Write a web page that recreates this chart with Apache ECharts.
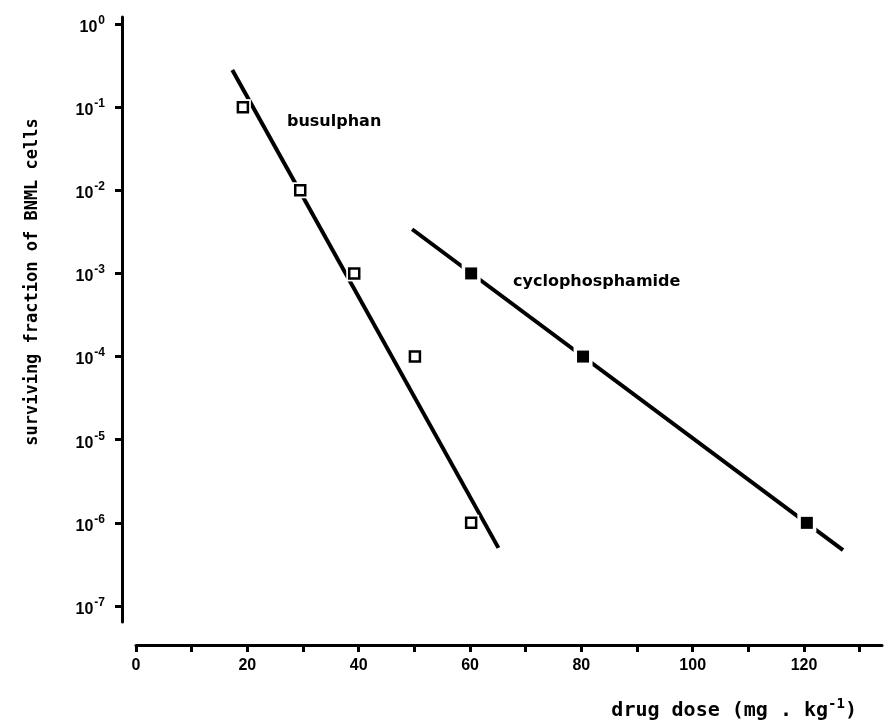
<!DOCTYPE html>
<html>
<head>
<meta charset="utf-8">
<script src="https://cdn.jsdelivr.net/npm/echarts@6/dist/echarts.min.js"></script>
<style>
  html, body { margin: 0; padding: 0; background: #fff; }
  #chart { width: 884px; height: 726px; }
</style>
</head>
<body>
<div id="chart"></div>
<script>
// Measured survival (surviving fraction) against drug dose, mg/kg
const busulphanDose = [19.2, 29.5, 39.2, 50.1, 60.2];
const busulphanSurvival = [1e-1, 1e-2, 1e-3, 1e-4, 1e-6];
const cyclophosphamideDose = [60.2, 80.3, 120.5];
const cyclophosphamideSurvival = [1e-3, 1e-4, 1e-6];

// End points of the fitted survival lines
const busulphanFitDose = [17.3, 65.1];
const busulphanFitSurvival = [0.28, 5.0e-7];
const cyclophosphamideFitDose = [49.6, 127];
const cyclophosphamideFitSurvival = [3.4e-3, 4.7e-7];

// Axis ranges
const doseRange = [0, 134];
const doseTickStep = 10;
const doseLabelStep = 20;
const doseLabelMax = 120;
const survivalRange = [1e-7, 1];

const pairs = (xs, ys) => xs.map((x, i) => [x, ys[i]]);

const tickFont = { fontFamily: 'Liberation Sans', fontWeight: 'bold', fontSize: 16, color: '#000' };
const black = '#000';

const chart = echarts.init(document.getElementById('chart'), null, { renderer: 'canvas' });

chart.setOption({
  animation: false,
  backgroundColor: '#fff',
  grid: [
    { left: 136, top: 24, width: 746, height: 582 },
    { left: 136, top: 17, width: 746, height: 605 }
  ],
  xAxis: [
    {
      type: 'value', gridIndex: 0,
      min: doseRange[0], max: doseRange[1], interval: doseTickStep,
      offset: 39,
      splitLine: { show: false },
      axisLine: { show: true, onZero: false, lineStyle: { color: black, width: 3 } },
      axisTick: { show: true, length: 7, lineStyle: { color: black, width: 3 } },
      axisLabel: {
        margin: 13, ...tickFont,
        showMaxLabel: false,
        formatter: v => (v % doseLabelStep === 0 && v <= doseLabelMax) ? String(v) : ''
      }
    },
    { type: 'value', gridIndex: 1, show: false, min: 0, max: 1 }
  ],
  yAxis: [
    {
      type: 'log', gridIndex: 0, logBase: 10,
      min: survivalRange[0], max: survivalRange[1], interval: 1,
      offset: 14,
      splitLine: { show: false },
      axisLine: { show: true, onZero: false, lineStyle: { color: black, width: 3 } },
      axisTick: { show: true, length: 7, lineStyle: { color: black, width: 3 } },
      axisLabel: {
        margin: 17,
        formatter: v => '{b|10}{s|' + Math.round(Math.log10(v)) + '}',
        rich: {
          b: { ...tickFont, fontSize: 16, padding: [7, 0, 0, 0] },
          s: { fontFamily: 'Liberation Sans', fontWeight: 'bold', fontSize: 12, color: black, padding: [0, 0, 7, 1] }
        }
      }
    },
    {
      type: 'value', gridIndex: 1, min: 0, max: 1, offset: 14,
      splitLine: { show: false },
      axisLine: { show: true, onZero: false, lineStyle: { color: black, width: 3 } },
      axisTick: { show: false },
      axisLabel: { show: false }
    }
  ],
  series: [
    {
      name: 'busulphan fit', type: 'line', silent: true, z: 2,
      data: pairs(busulphanFitDose, busulphanFitSurvival),
      showSymbol: false, symbol: 'none',
      lineStyle: { color: black, width: 4, cap: 'butt' }
    },
    {
      name: 'cyclophosphamide fit', type: 'line', silent: true, z: 2,
      data: pairs(cyclophosphamideFitDose, cyclophosphamideFitSurvival),
      showSymbol: false, symbol: 'none',
      lineStyle: { color: black, width: 4, cap: 'butt' }
    },
    {
      name: 'busulphan gap', type: 'scatter', silent: true, z: 3,
      data: pairs(busulphanDose, busulphanSurvival),
      symbol: 'rect', symbolSize: 16,
      itemStyle: { color: '#fff', opacity: 1 }
    },
    {
      name: 'cyclophosphamide gap', type: 'scatter', silent: true, z: 3,
      data: pairs(cyclophosphamideDose, cyclophosphamideSurvival),
      symbol: 'rect', symbolSize: 19,
      itemStyle: { color: '#fff', opacity: 1 }
    },
    {
      name: 'busulphan', type: 'scatter', silent: true, z: 4,
      data: pairs(busulphanDose, busulphanSurvival),
      symbol: 'rect', symbolSize: 10,
      itemStyle: { color: '#fff', borderColor: black, borderWidth: 2.5, opacity: 1 }
    },
    {
      name: 'cyclophosphamide', type: 'scatter', silent: true, z: 4,
      data: pairs(cyclophosphamideDose, cyclophosphamideSurvival),
      symbol: 'rect', symbolSize: 12,
      itemStyle: { color: black, opacity: 1 }
    }
  ],
  graphic: [
    {
      type: 'text', x: 287, y: 122, silent: true,
      style: { text: 'busulphan', font: 'bold 16px "DejaVu Sans"', fill: black, align: 'left', verticalAlign: 'middle' }
    },
    {
      type: 'text', x: 513, y: 282, silent: true,
      style: { text: 'cyclophosphamide', font: 'bold 16px "DejaVu Sans"', fill: black, align: 'left', verticalAlign: 'middle' }
    },
    {
      type: 'text', x: 33, y: 282, rotation: Math.PI / 2, silent: true,
      style: { text: 'surviving fraction of BNML cells', font: 'bold 17px "DejaVu Sans Mono"', fill: black, align: 'center', verticalAlign: 'middle' }
    },
    {
      type: 'text', x: 857, y: 708, silent: true,
      style: {
        text: '{a|drug dose (mg . kg}{s|-1}{a|)}',
        align: 'right', verticalAlign: 'middle',
        rich: {
          a: { fontFamily: 'DejaVu Sans Mono', fontWeight: 'bold', fontSize: 20, fill: black, padding: [6, 0, 0, 0] },
          s: { fontFamily: 'DejaVu Sans Mono', fontWeight: 'bold', fontSize: 14, fill: black, padding: [0, 0, 8, 0] }
        }
      }
    }
  ]
});
</script>
</body>
</html>
